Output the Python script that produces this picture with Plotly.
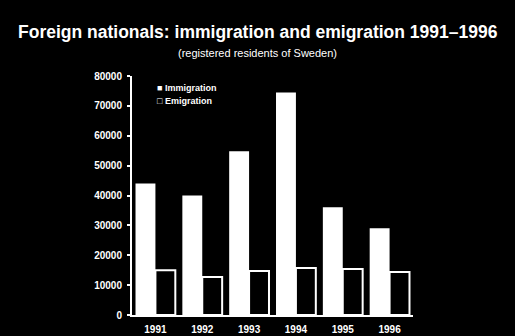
import plotly.graph_objects as go

years = ["1991", "1992", "1993", "1994", "1995", "1996"]
immigration = [44000, 40000, 54800, 74500, 36100, 29000]
emigration = [15000, 12700, 14700, 15700, 15400, 14400]
y_ticks = [0, 10000, 20000, 30000, 40000, 50000, 60000, 70000, 80000]

FONT = "Liberation Sans, Arial, sans-serif"

W, H = 515, 336
ML, MR, MT, MB = 132, 102, 76, 21
PW, PH = W - ML - MR, H - MT - MB


def px_to_paper(px, py):
    """Convert canvas pixel position to paper coordinates."""
    return (px - ML) / PW, (H - MB - py) / PH


fig = go.Figure()
fig.add_trace(go.Bar(
    x=years, y=immigration, name="Immigration",
    marker=dict(color="white", line=dict(color="white", width=0)),
))
fig.add_trace(go.Bar(
    x=years, y=emigration, name="Emigration",
    marker=dict(color="black", line=dict(color="white", width=2)),
))

# Title and subtitle, centred on the whole canvas
tx, ty = px_to_paper(W / 2, 32)
fig.add_annotation(
    text="<b>Foreign nationals: immigration and emigration 1991–1996</b>",
    xref="paper", yref="paper", x=tx, y=ty,
    xanchor="center", yanchor="middle", showarrow=False,
    font=dict(family=FONT, size=17.5, color="white"),
)
sx, sy = px_to_paper(W / 2, 53)
fig.add_annotation(
    text="(registered residents of Sweden)",
    xref="paper", yref="paper", x=sx, y=sy,
    xanchor="center", yanchor="middle", showarrow=False,
    font=dict(family=FONT, size=11, color="white", weight="normal"),
)

# Compact key inside the plot area
for label, sym, ky in [("Immigration", "■", 88), ("Emigration", "□", 101)]:
    lx, ly = px_to_paper(155, ky)
    fig.add_annotation(
        text=f"<b>{sym} {label}</b>",
        xref="paper", yref="paper", x=lx, y=ly,
        xanchor="left", yanchor="middle", showarrow=False,
        font=dict(family=FONT, size=9, color="white"),
    )

fig.update_layout(
    width=W, height=H,
    paper_bgcolor="black", plot_bgcolor="black",
    margin=dict(l=ML, r=MR, t=MT, b=MB, autoexpand=False),
    barmode="group", bargap=0.15, bargroupgap=0,
    showlegend=False,
    font=dict(family=FONT, color="white", size=10, weight="bold"),
    xaxis=dict(
        showline=True, linecolor="white", linewidth=2,
        ticks="", showgrid=False, range=[-0.5, 5.5],
        ticklabelstandoff=4, automargin=False,
        tickfont=dict(size=10, color="white", weight="bold"),
    ),
    yaxis=dict(
        range=[0, 80000], tickvals=y_ticks, ticktext=[str(v) for v in y_ticks],
        showline=True, linecolor="white", linewidth=2,
        ticks="outside", ticklen=3, tickwidth=2, tickcolor="white",
        ticklabelstandoff=3, automargin=False,
        showgrid=False, zeroline=False,
        tickfont=dict(size=10, color="white", weight="bold"),
    ),
)

fig.write_html("out.html")
